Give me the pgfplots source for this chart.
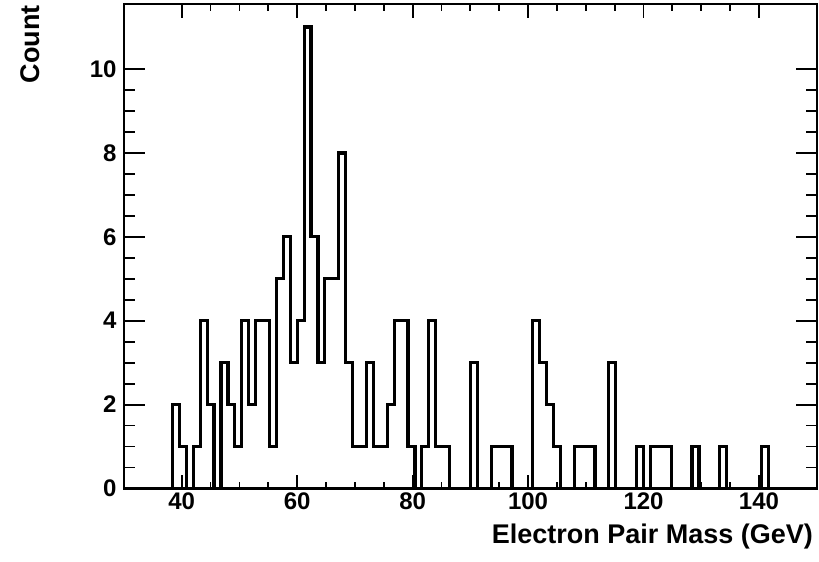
\documentclass[border=0pt]{standalone}
\usepackage{pgfplots}
\pgfplotsset{compat=1.18}
\usepackage{fontspec}
\setmainfont{Liberation Sans}
\begin{document}
\begin{tikzpicture}
\begin{axis}[
  scale only axis,
  width=692.7bp, height=484.5bp,
  xmin=30, xmax=150, ymin=0, ymax=11.55,
  xtick={40,60,80,100,120,140},
  ytick={0,2,4,6,8,10},
  minor x tick num=3,
  minor y tick num=3,
  tick align=inside,
  axis line style={line width=2.4bp},
  every tick/.style={black, line width=1.8bp},
  x tick style={/pgfplots/major tick length=14bp,/pgfplots/minor tick length=7bp},
  y tick style={/pgfplots/major tick length=21bp,/pgfplots/minor tick length=11bp},
  /pgf/number format/assume math mode=true,
  tick label style={font=\bfseries\fontsize{24bp}{28bp}\selectfont},
  yticklabel style={xshift=-4bp},
  xticklabel style={yshift=-1bp},
  clip=false,
]
\addplot[const plot, black, line width=3.2bp] coordinates {
(30.0,0) (31.2,0) (32.4,0) (33.6,0) (34.8,0) (36.0,0) (37.2,0)
(38.4,2) (39.6,1) (40.8,0) (42.0,1) (43.2,4) (44.4,2) (45.6,0)
(46.8,3) (48.0,2) (49.2,1) (50.4,4) (51.6,2) (52.8,4) (54.0,4)
(55.2,1) (56.4,5) (57.6,6) (58.8,3) (60.0,4) (61.2,11) (62.4,6)
(63.6,3) (64.8,5) (66.0,5) (67.2,8) (68.4,3) (69.6,1) (70.8,1)
(72.0,3) (73.2,1) (74.4,1) (75.6,2) (76.8,4) (78.0,4) (79.2,1)
(80.4,0) (81.6,1) (82.8,4) (84.0,1) (85.2,1) (86.4,0) (87.6,0)
(88.8,0) (90.0,3) (91.2,0) (92.4,0) (93.6,1) (94.8,1) (96.0,1)
(97.2,0) (98.4,0) (99.6,0) (100.8,4) (102.0,3) (103.2,2) (104.4,1)
(105.6,0) (106.8,0) (108.0,1) (109.2,1) (110.4,1) (111.6,0) (112.8,0)
(114.0,3) (115.2,0) (116.4,0) (117.6,0) (118.8,1) (120.0,0) (121.2,1)
(122.4,1) (123.6,1) (124.8,0) (126.0,0) (127.2,0) (128.4,1) (129.6,0)
(130.8,0) (132.0,0) (133.2,1) (134.4,0) (135.6,0) (136.8,0) (138.0,0)
(139.2,0) (140.4,1) (141.6,0) (142.8,0) (144.0,0) (145.2,0) (146.4,0)
(147.6,0) (148.8,0) (150.0,0)
};
\end{axis}
\node[anchor=base east, font=\bfseries\fontsize{27bp}{32bp}\selectfont, inner sep=0pt]
  at ([xshift=-3.5bp, yshift=-54.5bp]current axis.south east) {Electron Pair Mass (GeV)};
\node[rotate=90, anchor=base east, font=\bfseries\fontsize{27bp}{32bp}\selectfont, inner sep=0pt]
  at ([xshift=-84bp, yshift=-1bp]current axis.north west) {Count};
\pgfresetboundingbox
\path[use as bounding box] ([xshift=-124bp, yshift=-73.5bp]current axis.south west) rectangle ([xshift=2.3bp, yshift=4bp]current axis.north east);
\end{tikzpicture}
\end{document}
